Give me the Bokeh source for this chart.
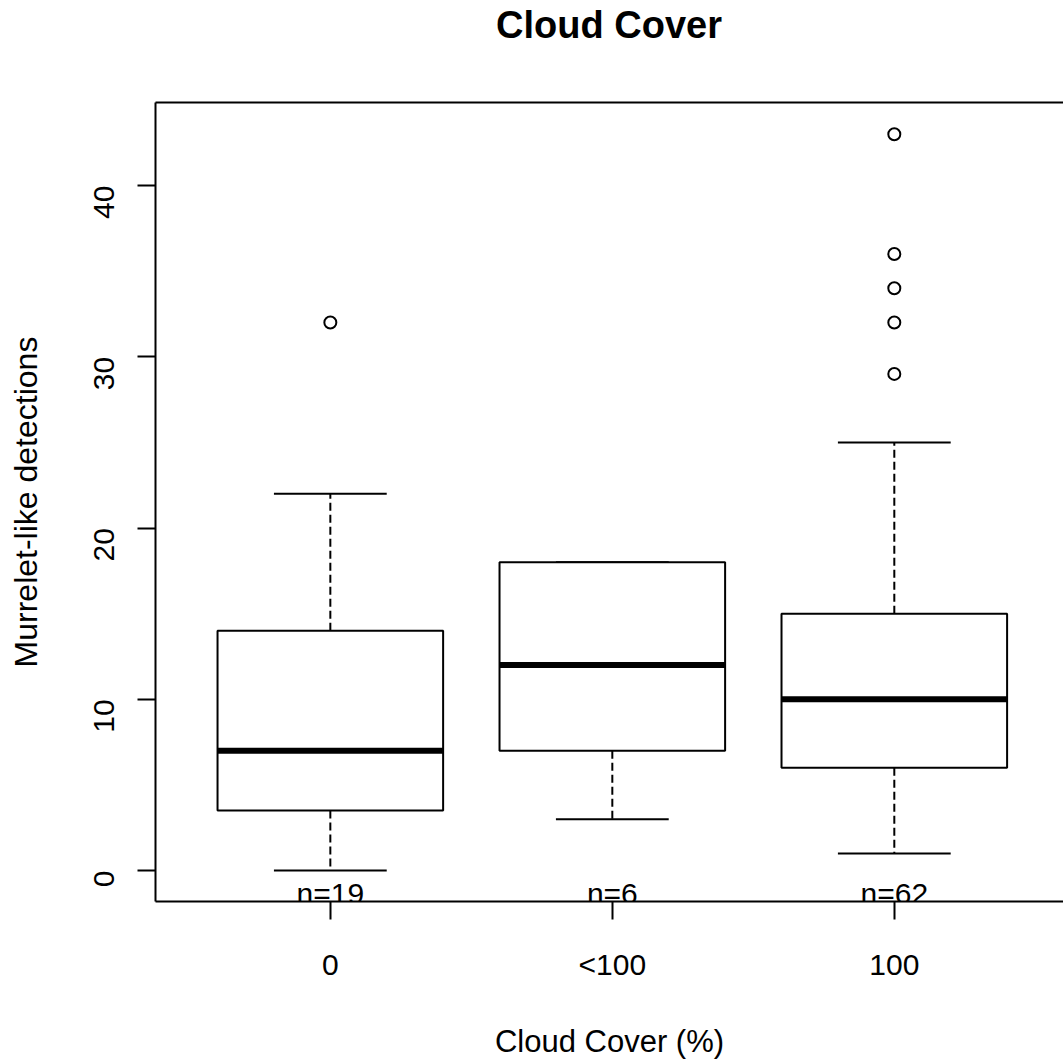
import math
from bokeh.plotting import figure
from bokeh.models import ColumnDataSource, FixedTicker, LinearAxis, Range1d, Div
from bokeh.layouts import column
from bokeh.embed import file_html
from bokeh.resources import INLINE
from bokeh.core.properties import value

# ---- data ----
title_text = "Cloud Cover"
categories = ["0", "<100", "100"]
lower_whisker = [0, 3, 1]
q1 = [3.5, 7, 6]
median = [7, 12, 10]
q3 = [14, 18, 15]
upper_whisker = [22, 18, 25]
outlier_group = ["0", "100", "100", "100", "100", "100"]
outlier_values = [32, 29, 32, 34, 36, 43]
n_labels = ["n=19", "n=6", "n=62"]
y_ticks = [0, 10, 20, 30, 40]

FONT = "Liberation Sans"
BOX_HALF = 0.4
CAP_HALF = 0.2
TITLE_H = 50

pos = [i + 1 for i in range(len(categories))]
cat_pos = {c: i + 1 for i, c in enumerate(categories)}

box_src = ColumnDataSource(dict(
    x=pos,
    left=[x - BOX_HALF for x in pos],
    right=[x + BOX_HALF for x in pos],
    capl=[x - CAP_HALF for x in pos],
    capr=[x + CAP_HALF for x in pos],
    lo=lower_whisker, q1=q1, med=median, q3=q3, hi=upper_whisker,
    n=n_labels, ny=[-1.35] * len(pos),
))
out_src = ColumnDataSource(dict(
    x=[cat_pos[g] for g in outlier_group],
    y=outlier_values,
))

p = figure(width=1063, height=1061 - TITLE_H, output_backend="svg", toolbar_location=None,
           x_range=Range1d(0.38, 3.60), y_range=Range1d(-1.81, 44.85),
           min_border_left=155, min_border_right=0, min_border_top=102 - TITLE_H,
           min_border_bottom=159,
           x_axis_label="Cloud Cover (%)",
           y_axis_label="Murrelet-like detections")
p.grid.visible = False
p.outline_line_color = None
p.background_fill_color = "white"
p.border_fill_color = "white"

# whiskers
p.segment(x0="x", y0="q3", x1="x", y1="hi", source=box_src, line_color="black",
          line_width=2, line_dash="8 4")
p.segment(x0="x", y0="q1", x1="x", y1="lo", source=box_src, line_color="black",
          line_width=2, line_dash="8 4")
# staples
p.segment(x0="capl", y0="hi", x1="capr", y1="hi", source=box_src, line_color="black", line_width=2)
p.segment(x0="capl", y0="lo", x1="capr", y1="lo", source=box_src, line_color="black", line_width=2)
# boxes
p.quad(left="left", right="right", bottom="q1", top="q3", source=box_src,
       fill_color="white", line_color="black", line_width=2)
# medians
p.segment(x0="left", y0="med", x1="right", y1="med", source=box_src, line_color="black",
          line_width=6)
# outliers
p.scatter(x="x", y="y", source=out_src, marker="circle", size=12, fill_color=None,
          line_color="black", line_width=2)
# n labels
p.text(x="x", y="ny", text="n", source=box_src, text_align="center", text_baseline="middle",
       text_font=value(FONT), text_font_size="30px", text_color="black")

# axes
xa = p.xaxis[0]
xa.ticker = FixedTicker(ticks=pos)
xa.major_label_overrides = {x: c for x, c in zip(pos, categories)}
ya = p.yaxis[0]
ya.ticker = FixedTicker(ticks=y_ticks)
ya.major_label_orientation = math.pi / 2

for ax in (xa, ya):
    ax.axis_line_width = 2
    ax.axis_line_color = "black"
    ax.major_tick_line_width = 2
    ax.major_tick_line_color = "black"
    ax.major_tick_in = 0
    ax.major_tick_out = 18
    ax.minor_tick_line_color = None
    ax.major_label_text_font = FONT
    ax.major_label_text_font_size = "30px"
    ax.major_label_text_color = "black"
    ax.axis_label_text_font = FONT
    ax.axis_label_text_font_size = "31px"
    ax.axis_label_text_font_style = "normal"
    ax.axis_label_text_color = "black"

ya.axis_label_text_font_size = "32px"
xa.major_label_standoff = 28
xa.axis_label_standoff = 40
ya.major_label_standoff = 33
ya.axis_label_standoff = 38

top = LinearAxis(ticker=FixedTicker(ticks=[]), major_label_text_font_size="0px",
                 axis_line_width=2, axis_line_color="black",
                 major_tick_line_color=None, minor_tick_line_color=None)
p.add_layout(top, "above")

title = Div(text=title_text, width=908, height=TITLE_H, margin=(0, 0, 0, 155),
            styles={"font-family": FONT, "font-size": "38px", "font-weight": "bold",
                    "text-align": "center", "line-height": f"{TITLE_H}px",
                    "color": "black", "background-color": "white"})

layout = column(title, p, spacing=0)

open("out.html", "w").write(file_html(layout, INLINE))
